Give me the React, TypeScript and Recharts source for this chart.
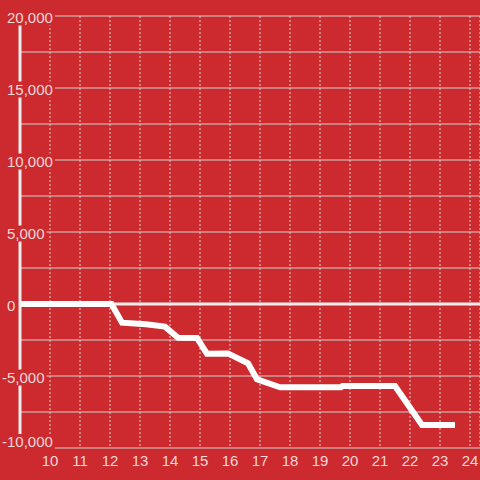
import React from "react";
import { LineChart, Line, XAxis, YAxis, CartesianGrid, ReferenceLine } from "recharts";

const HOURS = [9, 12.05, 12.4, 13.2, 13.83, 14.27, 14.9, 15.23, 15.93, 16.6, 16.9, 17.67, 19.7, 19.75, 21.5, 22.4, 23.4];
const BALANCE = [0, 0, -1300, -1410, -1570, -2340, -2360, -3450, -3430, -4120, -5230, -5780, -5780, -5700, -5700, -8400, -8400];
const X_TICKS = [10, 11, 12, 13, 14, 15, 16, 17, 18, 19, 20, 21, 22, 23, 24];
const Y_TICKS = [-10000, -7500, -5000, -2500, 0, 2500, 5000, 7500, 10000, 12500, 15000, 17500, 20000];

const data = HOURS.map((h, i) => ({ x: h, y: BALANCE[i] }));

const BG = "#cc2a2f";
const GRID = "#d2d2d2";
const LABEL = "#f5d8d8";
const FONT = "'Liberation Sans', Arial, sans-serif";

const fmt = (v: number) => v.toLocaleString("en-US");

// rough Arial 15px text width
function textWidth(s: string): number {
  let w = 0;
  for (const c of s) w += c === "," ? 4.17 : c === "-" ? 5 : 8.34;
  return w;
}

function YTick(props: any) {
  const { y, payload } = props;
  const v = payload.value as number;
  if (v % 5000 !== 0) return null;
  const label = fmt(v);
  const neg = v < 0;
  const left = neg ? 2 : 7;
  const w = textWidth(label);
  // bottom label is nudged up so it stays inside the chart
  const base = v === -10000 ? y - 1 : y + 6.5;
  return (
    <g>
      <rect x={left - 2} y={base - 13} width={w + 4} height={16} fill={BG} />
      <text x={left} y={base} fill={LABEL} fontSize={15} fontFamily={FONT} textAnchor="start">
        {label}
      </text>
    </g>
  );
}

function XTick(props: any) {
  const { x, payload } = props;
  return (
    <text x={x} y={466} fill={LABEL} fontSize={15} fontFamily={FONT} textAnchor="middle">
      {payload.value}
    </text>
  );
}

export default function App() {
  return (
    <div style={{ position: "absolute", left: 0, top: 0, width: 480, height: 480, background: BG }}>
      <LineChart width={480} height={480} data={data} margin={{ top: 16, right: 0, bottom: 0, left: 0 }}>
        <CartesianGrid horizontal={true} vertical={false} stroke={GRID} strokeWidth={1} />
        <CartesianGrid horizontal={false} vertical={true} stroke={GRID} strokeWidth={1} strokeDasharray="2 2" />
        <XAxis
          dataKey="x"
          type="number"
          domain={[9, 24.333]}
          ticks={X_TICKS}
          height={32}
          axisLine={false}
          tickLine={false}
          tick={<XTick />}
          allowDataOverflow
        />
        <YAxis
          type="number"
          domain={[-10000, 20000]}
          ticks={Y_TICKS}
          width={20}
          axisLine={{ stroke: "#eeeeee", strokeWidth: 3 }}
          tickLine={false}
          tick={<YTick />}
          interval={0}
          allowDataOverflow
        />
        <ReferenceLine y={0} stroke="#eeeeee" strokeWidth={3} />
        <Line
          type="linear"
          dataKey="y"
          stroke="#ffffff"
          strokeWidth={6}
          strokeLinecap="square"
          dot={false}
          activeDot={false}
          isAnimationActive={false}
        />
      </LineChart>
    </div>
  );
}
